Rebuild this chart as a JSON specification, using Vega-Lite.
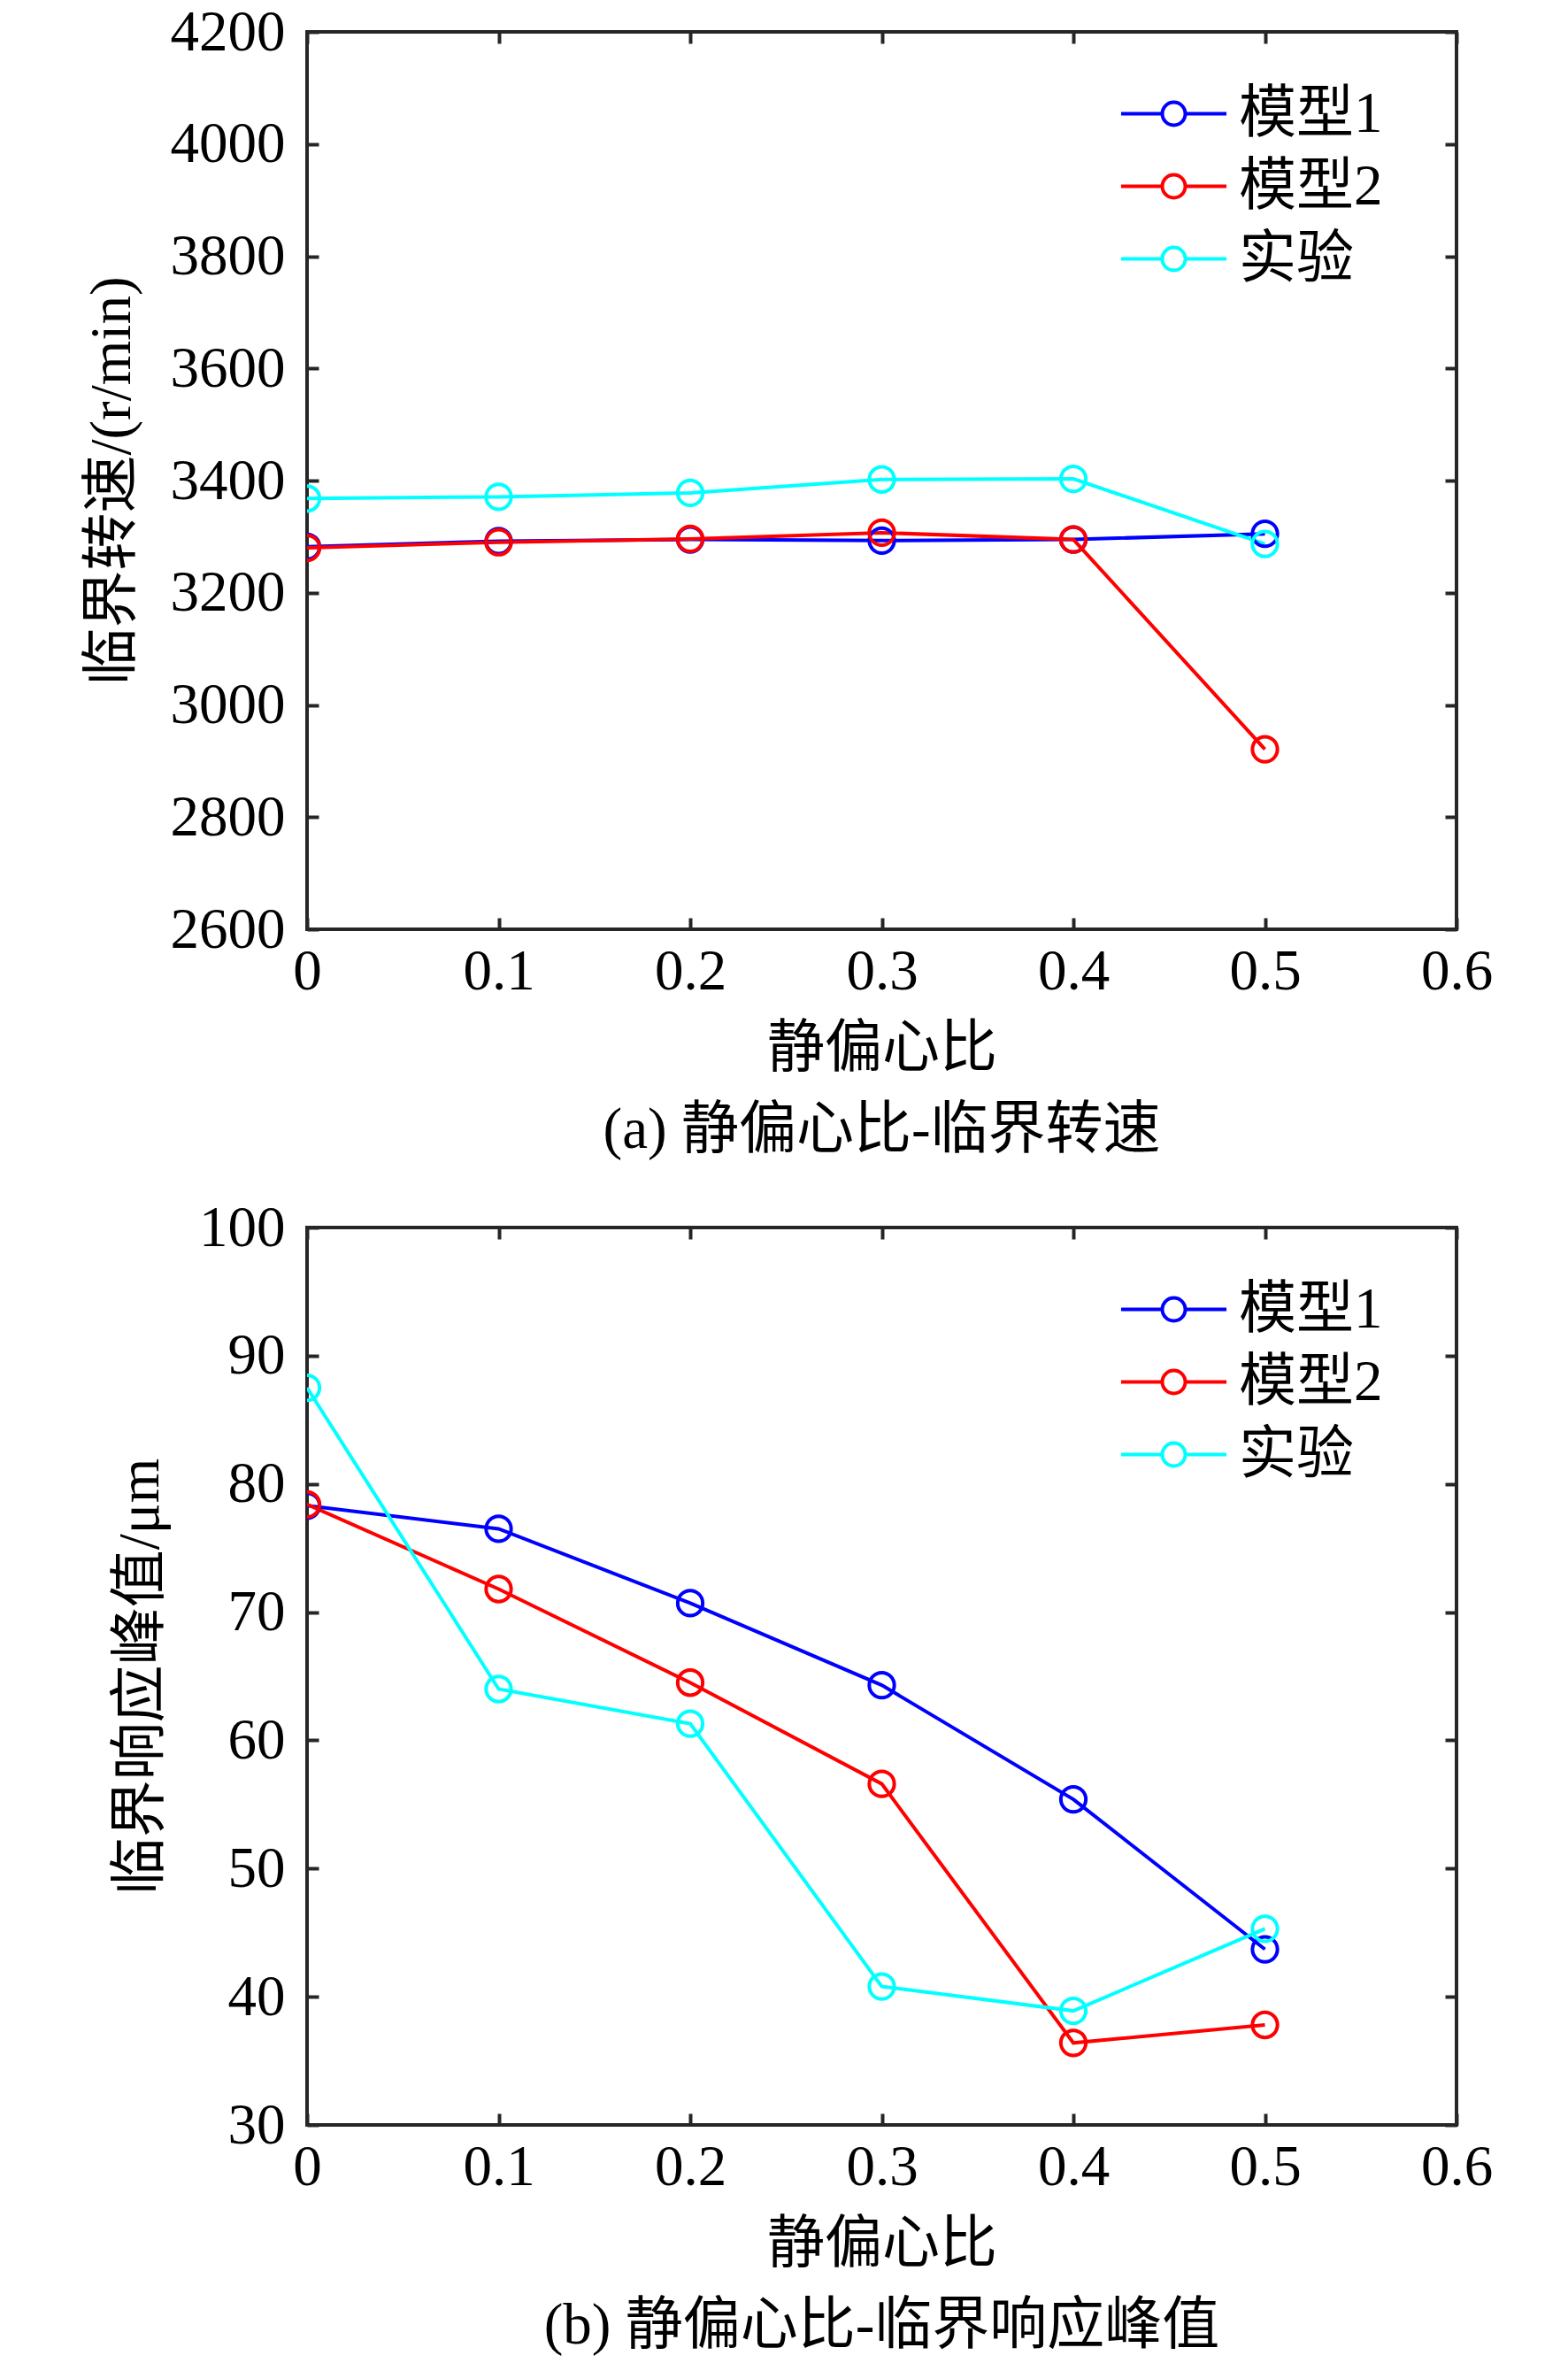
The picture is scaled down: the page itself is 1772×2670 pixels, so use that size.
{
  "$schema": "https://vega.github.io/schema/vega-lite/v6.json",
  "padding": {"left": 92, "top": 2, "right": 0, "bottom": 0},
  "bounds": "flush",
  "spacing": 337,
  "datasets": {
    "speed": [
      {"e": 0.0, "series": "模型1", "v": 3282},
      {"e": 0.1, "series": "模型1", "v": 3292},
      {"e": 0.2, "series": "模型1", "v": 3295},
      {"e": 0.3, "series": "模型1", "v": 3293},
      {"e": 0.4, "series": "模型1", "v": 3295},
      {"e": 0.5, "series": "模型1", "v": 3305},
      {"e": 0.0, "series": "模型2", "v": 3280},
      {"e": 0.1, "series": "模型2", "v": 3290},
      {"e": 0.2, "series": "模型2", "v": 3296},
      {"e": 0.3, "series": "模型2", "v": 3307},
      {"e": 0.4, "series": "模型2", "v": 3295},
      {"e": 0.5, "series": "模型2", "v": 2921},
      {"e": 0.0, "series": "实验", "v": 3368},
      {"e": 0.1, "series": "实验", "v": 3371},
      {"e": 0.2, "series": "实验", "v": 3378},
      {"e": 0.3, "series": "实验", "v": 3402},
      {"e": 0.4, "series": "实验", "v": 3403},
      {"e": 0.5, "series": "实验", "v": 3287}
    ],
    "peak": [
      {"e": 0.0, "series": "模型1", "v": 78.3},
      {"e": 0.1, "series": "模型1", "v": 76.5},
      {"e": 0.2, "series": "模型1", "v": 70.7},
      {"e": 0.3, "series": "模型1", "v": 64.3},
      {"e": 0.4, "series": "模型1", "v": 55.4},
      {"e": 0.5, "series": "模型1", "v": 43.7},
      {"e": 0.0, "series": "模型2", "v": 78.4},
      {"e": 0.1, "series": "模型2", "v": 71.8},
      {"e": 0.2, "series": "模型2", "v": 64.5},
      {"e": 0.3, "series": "模型2", "v": 56.6},
      {"e": 0.4, "series": "模型2", "v": 36.4},
      {"e": 0.5, "series": "模型2", "v": 37.8},
      {"e": 0.0, "series": "实验", "v": 87.5},
      {"e": 0.1, "series": "实验", "v": 64.0},
      {"e": 0.2, "series": "实验", "v": 61.3},
      {"e": 0.3, "series": "实验", "v": 40.8},
      {"e": 0.4, "series": "实验", "v": 38.9},
      {"e": 0.5, "series": "实验", "v": 45.3}
    ]
  },
  "vconcat": [
    {
      "width": 1299,
      "height": 1014,
      "data": {"name": "speed"},
      "title": {"text": "(a) 静偏心比-临界转速", "orient": "bottom", "offset": 29},
      "layer": [
        {
          "mark": {"type": "line", "clip": true, "strokeWidth": 4},
          "encoding": {
            "x": {"field": "e", "type": "quantitative", "scale": {"domain": [0, 0.6], "nice": false},
                  "axis": {"orient": "bottom", "values": [0, 0.1, 0.2, 0.3, 0.4, 0.5, 0.6], "format": "~g", "title": "静偏心比", "labelPadding": 29, "titlePadding": 23}},
            "y": {"field": "v", "type": "quantitative", "scale": {"domain": [2600, 4200], "nice": false, "zero": false},
                  "axis": {"orient": "left", "values": [2600, 2800, 3000, 3200, 3400, 3600, 3800, 4000, 4200], "format": "d", "title": "临界转速/(r/min)", "labelPadding": 38, "titlePadding": 32}},
            "color": {"field": "series", "type": "nominal",
                      "scale": {"domain": ["模型1", "模型2", "实验"], "range": ["#0000ff", "#ff0000", "#00ffff"]}}
          }
        },
        {
          "mark": {"type": "point", "clip": true, "filled": false, "size": 800, "strokeWidth": 4, "opacity": 1},
          "encoding": {
            "x": {"field": "e", "type": "quantitative", "axis": null},
            "y": {"field": "v", "type": "quantitative", "axis": null},
            "color": {"field": "series", "type": "nominal"}
          }
        },
        {
          "mark": {"type": "point", "opacity": 0},
          "encoding": {
            "x": {"field": "e", "type": "quantitative",
                  "axis": {"orient": "top", "values": [0, 0.1, 0.2, 0.3, 0.4, 0.5, 0.6], "labels": false, "title": null}},
            "y": {"field": "v", "type": "quantitative",
                  "axis": {"orient": "right", "values": [2600, 2800, 3000, 3200, 3400, 3600, 3800, 4000, 4200], "labels": false, "title": null}}
          }
        }
      ],
      "resolve": {"axis": {"x": "independent", "y": "independent"}}
    },
    {
      "width": 1299,
      "height": 1014,
      "data": {"name": "peak"},
      "title": {"text": "(b) 静偏心比-临界响应峰值", "orient": "bottom", "offset": 29},
      "layer": [
        {
          "mark": {"type": "line", "clip": true, "strokeWidth": 4},
          "encoding": {
            "x": {"field": "e", "type": "quantitative", "scale": {"domain": [0, 0.6], "nice": false},
                  "axis": {"orient": "bottom", "values": [0, 0.1, 0.2, 0.3, 0.4, 0.5, 0.6], "format": "~g", "title": "静偏心比", "labelPadding": 29, "titlePadding": 23}},
            "y": {"field": "v", "type": "quantitative", "scale": {"domain": [30, 100], "nice": false, "zero": false},
                  "axis": {"orient": "left", "values": [30, 40, 50, 60, 70, 80, 90, 100], "format": "d", "title": "临界响应峰值/μm", "labelPadding": 38, "titlePadding": 32}},
            "color": {"field": "series", "type": "nominal",
                      "scale": {"domain": ["模型1", "模型2", "实验"], "range": ["#0000ff", "#ff0000", "#00ffff"]}}
          }
        },
        {
          "mark": {"type": "point", "clip": true, "filled": false, "size": 800, "strokeWidth": 4, "opacity": 1},
          "encoding": {
            "x": {"field": "e", "type": "quantitative", "axis": null},
            "y": {"field": "v", "type": "quantitative", "axis": null},
            "color": {"field": "series", "type": "nominal"}
          }
        },
        {
          "mark": {"type": "point", "opacity": 0},
          "encoding": {
            "x": {"field": "e", "type": "quantitative",
                  "axis": {"orient": "top", "values": [0, 0.1, 0.2, 0.3, 0.4, 0.5, 0.6], "labels": false, "title": null}},
            "y": {"field": "v", "type": "quantitative",
                  "axis": {"orient": "right", "values": [30, 40, 50, 60, 70, 80, 90, 100], "labels": false, "title": null}}
          }
        }
      ],
      "resolve": {"axis": {"x": "independent", "y": "independent"}}
    }
  ],
  "resolve": {"scale": {"color": "independent"}},
  "config": {
    "font": "Liberation Serif, Noto Sans CJK SC",
    "view": {"stroke": "#262626", "strokeWidth": 4},
    "axis": {
      "grid": false, "domain": false,
      "tickSize": -13, "tickWidth": 4, "tickColor": "#262626",
      "labelFont": "Liberation Serif, Noto Sans CJK SC", "labelFontSize": 65, "labelColor": "black",
      "labelFlush": false, "labelOverlap": false,
      "titleFont": "Liberation Serif, Noto Sans CJK SC", "titleFontSize": 65, "titleFontWeight": "normal", "titleColor": "black"
    },
    "legend": {
      "orient": "none", "legendX": 947, "legendY": 60, "title": null, "padding": 0,
      "symbolType": "M-3.97,0H-0.867M0.867,0H3.97M0.867,0A0.867,0.867,0,1,1,-0.867,0A0.867,0.867,0,1,1,0.867,0",
      "symbolSize": 900, "symbolStrokeWidth": 4, "symbolFillColor": "transparent",
      "labelFont": "Liberation Serif, Noto Sans CJK SC", "labelFontSize": 65, "labelColor": "black",
      "labelOffset": 41, "rowPadding": 16, "labelLimit": 500
    },
    "title": {"font": "Liberation Serif, Noto Sans CJK SC", "fontSize": 65, "fontWeight": "normal", "color": "black"}
  }
}
